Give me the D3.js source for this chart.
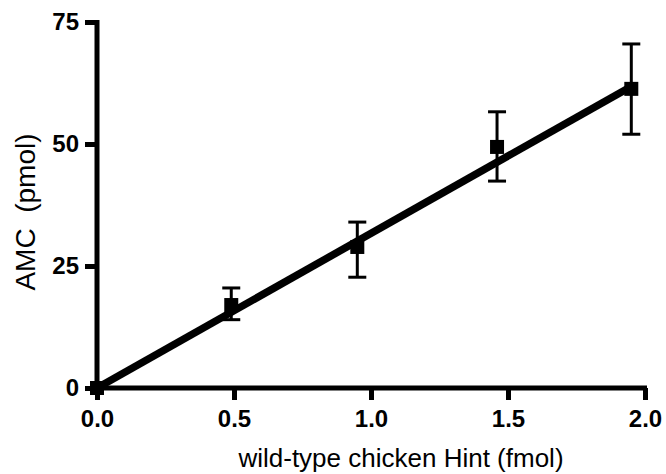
<!DOCTYPE html>
<html>
<head>
<meta charset="utf-8">
<script src="https://cdn.jsdelivr.net/npm/d3@7"></script>
<style>
  body { margin: 0; background: #fff; }
  svg { display: block; }
  text { font-family: "Liberation Sans", Arial, sans-serif; }
</style>
</head>
<body>
<div id="chart"></div>
<script>
const ink = '#000';

// data
const doseX   = [0, 0.49, 0.95, 1.46, 1.95];
const amcMean = [0, 17.0, 28.9, 49.4, 61.3];
const amcLow  = [0, 14.0, 22.7, 42.4, 52.0];
const amcHigh = [0, 20.5, 34.0, 56.6, 70.5];
const fitX    = [0, 1.95];
const fitY    = [0, 61.8];
const xTicks  = [0, 0.5, 1.0, 1.5, 2.0];
const yTicks  = [0, 25, 50, 75];

const W = 666, H = 474;
const margin = { top: 22, right: 21, bottom: 86, left: 97 };
const iW = W - margin.left - margin.right;
const iH = H - margin.top - margin.bottom;

const svg = d3.select('#chart').append('svg').attr('width', W).attr('height', H);
const g   = svg.append('g').attr('transform', `translate(${margin.left},${margin.top})`);

const x = d3.scaleLinear().domain([0, 2]).range([0, iW]);
const y = d3.scaleLinear().domain([0, 75]).range([iH, 0]);

const styleTicks = a => a.selectAll('text')
  .style('font-size', '24px').style('font-weight', 'bold').style('fill', ink)
  .style('font-family', '"Liberation Sans", Arial, sans-serif');

// axes
g.append('g').attr('transform', `translate(0,${iH})`)
  .call(d3.axisBottom(x).tickValues(xTicks).tickFormat(d3.format('.1f')).tickSize(12).tickPadding(10))
  .call(a => a.select('.domain').attr('stroke-width', 5).attr('d', `M-2.5,0H${iW + 2}`))
  .call(a => a.selectAll('.tick line').attr('stroke-width', 5))
  .call(styleTicks);

g.append('g')
  .call(d3.axisLeft(y).tickValues(yTicks).tickSize(12).tickPadding(6))
  .call(a => a.select('.domain').attr('stroke-width', 5).attr('d', `M0,${iH + 2.5}V-2`))
  .call(a => a.selectAll('.tick line').attr('stroke-width', 5))
  .call(styleTicks);

// fit line
g.append('path')
  .datum(fitX.map((d, i) => [d, fitY[i]]))
  .attr('fill', 'none').attr('stroke', ink).attr('stroke-width', 7.5)
  .attr('d', d3.line().x(d => x(d[0])).y(d => y(d[1])));

// error bars
const pts = doseX.map((d, i) => ({ x: d, m: amcMean[i], lo: amcLow[i], hi: amcHigh[i] }));
const eb = g.selectAll('.eb').data(pts.filter(d => d.hi > d.lo)).join('g').attr('class', 'eb')
  .attr('stroke', ink).attr('stroke-width', 3);
eb.append('line').attr('x1', d => x(d.x)).attr('x2', d => x(d.x)).attr('y1', d => y(d.lo)).attr('y2', d => y(d.hi));
eb.append('line').attr('x1', d => x(d.x) - 9).attr('x2', d => x(d.x) + 9).attr('y1', d => y(d.lo)).attr('y2', d => y(d.lo));
eb.append('line').attr('x1', d => x(d.x) - 9).attr('x2', d => x(d.x) + 9).attr('y1', d => y(d.hi)).attr('y2', d => y(d.hi));

// markers
g.selectAll('.pt').data(pts).join('rect').attr('class', 'pt')
  .attr('x', d => x(d.x) - 7).attr('y', d => y(d.m) - 7)
  .attr('width', 14).attr('height', 14).attr('fill', ink);

// titles
svg.append('text')
  .attr('x', 401).attr('y', 467)
  .attr('text-anchor', 'middle')
  .style('font-size', '26px').style('fill', ink)
  .text('wild-type chicken Hint (fmol)');

svg.append('text')
  .attr('transform', `translate(35,212) rotate(-90)`)
  .attr('text-anchor', 'middle')
  .style('font-size', '28px').style('fill', ink).style('white-space', 'pre')
  .text('AMC  (pmol)');
</script>
</body>
</html>
